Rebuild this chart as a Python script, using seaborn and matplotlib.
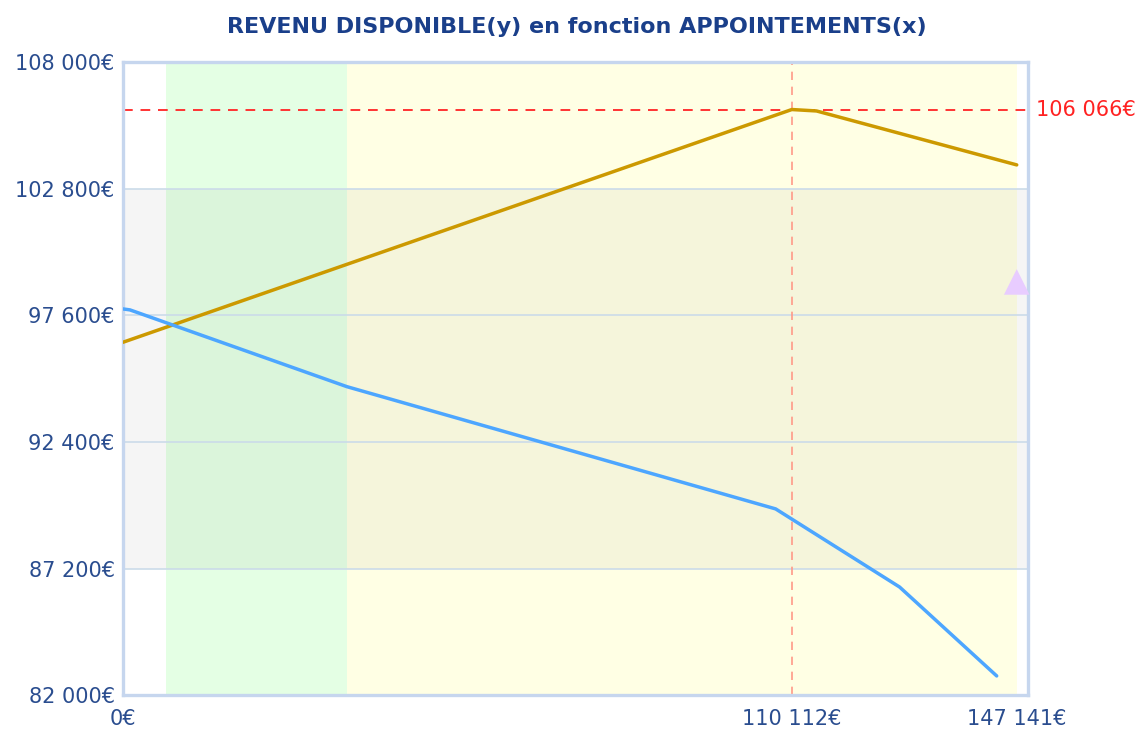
import numpy as np
import pandas as pd
import matplotlib
matplotlib.use("Agg")
import matplotlib.pyplot as plt
import seaborn as sns

# values
gold_x = [0, 110112, 114180, 147141]
gold_y = [96500, 106066, 106007, 103790]
blue_x = [0, 1150, 36860, 107450, 127850, 143840]
blue_y = [97870, 97830, 94675, 89650, 86440, 82785]
marker_x = [147141]
marker_y = [98980]
y_ticks = [82000, 87200, 92400, 97600, 102800, 108000]
y_labels = ["82 000€", "87 200€", "92 400€", "97 600€", "102 800€", "108 000€"]
x_ticks = [0, 110112, 147141]
x_labels = ["0€", "110 112€", "147 141€"]
green_band = (7040, 36860)
yellow_band = (36860, 147141)
gray_band = (87200, 102800)
max_y = 106066
max_x = 110112

sns.set_style("white")
plt.rcParams['font.family'] = ['DejaVu Sans']

fig = plt.figure(figsize=(11.42, 7.29), dpi=100)
ax = fig.add_axes([0.1077, 0.0466, 0.7925, 0.8677])

ax.axvspan(*green_band, color="#e4ffe4", lw=0, zorder=0)
ax.axvspan(*yellow_band, color="#ffffe4", lw=0, zorder=0)
ax.axhspan(*gray_band, color="black", alpha=0.04, lw=0, zorder=0.5)

for yt in y_ticks[1:-1]:
    ax.axhline(yt, color="#cbdbe9", lw=1.2, zorder=1)

ax.axhline(max_y, color="#ff3333", lw=1.4, ls=(0, (5, 4)), zorder=2)
ax.axvline(max_x, color="#ff9988", lw=1.2, ls=(0, (5, 4)), zorder=2)

gold = pd.DataFrame({"x": gold_x, "y": gold_y})
blue = pd.DataFrame({"x": blue_x, "y": blue_y})
sns.lineplot(data=gold, x="x", y="y", color="#cc9900", lw=2.5, ax=ax, zorder=3)
sns.lineplot(data=blue, x="x", y="y", color="#4da6ff", lw=2.5, ax=ax, zorder=3)
sns.scatterplot(x=marker_x, y=marker_y, marker="^", s=340, color="#e8ccff",
                edgecolor="none", ax=ax, zorder=4, clip_on=False)

ax.set_xlim(0, 149000)
ax.set_ylim(82000, 108000)
ax.set_yticks(y_ticks)
ax.set_yticklabels(y_labels)
ax.set_xticks(x_ticks)
ax.set_xticklabels(x_labels)
ax.tick_params(axis="both", length=0, labelsize=15, colors="#2a4d8f", pad=6)
ax.tick_params(axis="x", pad=10)
ax.set_xlabel("")
ax.set_ylabel("")

for s in ax.spines.values():
    s.set_visible(True)
    s.set_color("#c6d6ee")
    s.set_linewidth(2.4)

ax.text(1.009, max_y, "106 066€", transform=ax.get_yaxis_transform(),
        color="#ff2222", fontsize=15, va="center", ha="left")

fig.text(0.505, 0.963, "REVENU DISPONIBLE(y) en fonction APPOINTEMENTS(x)",
         ha="center", va="center", fontsize=16, fontweight="bold", color="#1a3f8a")

fig.savefig("out.png", dpi=100)
